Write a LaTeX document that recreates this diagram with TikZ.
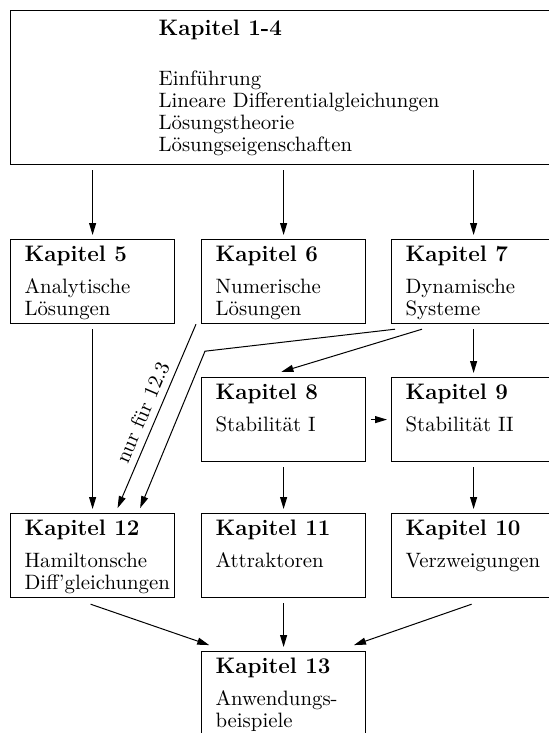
\documentclass[tikz,border=0pt]{standalone}
\usepackage{fontspec}
\usetikzlibrary{arrows.meta}

% Kasten: Titel fett, darunter Inhalt
\newcommand{\kap}[2]{\parbox[t][42pt][t]{82pt}{\leftskip=7pt
  \rule{0pt}{11pt}{\fontsize{11.2}{11}\selectfont\bfseries #1}\par
  \vspace{5pt}#2}}

\tikzset{
  kbox/.style={draw, line width=0.6pt, inner sep=0pt, anchor=north west,
    font=\fontsize{10.4}{11}\selectfont},
  pfeil/.style={line width=0.5pt, -{Triangle[length=6pt,width=3.5pt]},
    shorten >=2pt, shorten <=2.5pt},
}

\begin{document}
\begin{tikzpicture}[x=0.5pt, y=-0.5pt]
    \useasboundingbox (0,0) rectangle (549,733);

    % Kapitel 1-4
    \node[kbox] (k1) at (10,10) {\parbox[t][77pt][t]{272pt}{\leftskip=74pt
        \rule{0pt}{12.5pt}{\fontsize{11.2}{11}\selectfont\bfseries Kapitel 1-4}\par
        \vspace{14pt}Einführung\\Lineare Differentialgleichungen\\
        Lösungstheorie\\Lösungseigenschaften}};

    % Kapitel 5-13
    \node[kbox] (k5) at (10,239) {\kap{Kapitel 5}{Analytische\\Lösungen}};
    \node[kbox] (k6) at (201,239) {\kap{Kapitel 6}{Numerische\\Lösungen}};
    \node[kbox] (k7) at (391,239) {\kap{Kapitel 7}{Dynamische\\Systeme}};
    \node[kbox] (k8) at (201,377) {\kap{Kapitel 8}{Stabilität I}};
    \node[kbox] (k9) at (391,377) {\kap{Kapitel 9}{Stabilität II}};
    \node[kbox] (k12) at (10,513) {\kap{Kapitel 12}{Hamiltonsche\\Diff'gleichungen}};
    \node[kbox] (k11) at (201,513) {\kap{Kapitel 11}{Attraktoren}};
    \node[kbox] (k10) at (391,513) {\kap{Kapitel 10}{Verzweigungen}};
    \node[kbox] (k13) at (201,651) {\kap{Kapitel 13}{Anwendungs-\\beispiele}};

    % Pfeile
    \draw[pfeil] (k5.north |- k1.south) -- (k5.north);
    \draw[pfeil] (k6.north |- k1.south) -- (k6.north);
    \draw[pfeil] (k7.north |- k1.south) -- (k7.north);

    \draw[pfeil] (k5.south) -- (k12.north);
    \draw[pfeil, shorten <=0pt] ([xshift=-2.5pt]k6.south west)
        -- ([shift={(11.7pt,0.6pt)}]k12.north)
        node[midway, sloped, above, font=\fontsize{10.4}{11}\selectfont] {nur für 12.3};
    \draw[pfeil, shorten <=0pt] ([shift={(2pt,-2.5pt)}]k7.south west)
        -- ([shift={(2pt,-13.5pt)}]k6.south west)
        -- ([shift={(23pt,0.6pt)}]k12.north);

    \draw[pfeil, shorten <=0pt] ([shift={(15.5pt,-2.5pt)}]k7.south west)
        -- ([shift={(-3pt,2pt)}]k8.north);
    \draw[pfeil] (k9.north |- k7.south) -- (k9.north);
    \draw[pfeil] (k8.east) -- (k9.west);
    \draw[pfeil] (k8.south) -- (k11.north);
    \draw[pfeil] (k9.south) -- (k10.north);

    \draw[pfeil, shorten <=0pt] ([shift={(-1pt,-3pt)}]k12.south)
        -- ([shift={(6pt,2.3pt)}]k13.north west);
    \draw[pfeil] (k11.south) -- (k13.north);
    \draw[pfeil, shorten <=0pt] ([shift={(-1pt,-3pt)}]k10.south)
        -- ([shift={(-8pt,2.3pt)}]k13.north east);
\end{tikzpicture}
\end{document}
